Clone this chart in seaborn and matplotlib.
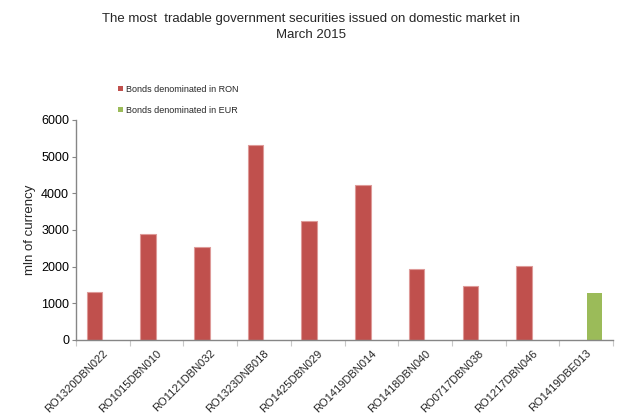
import matplotlib
matplotlib.use('Agg')
import matplotlib.pyplot as plt
import seaborn as sns
import pandas as pd
import numpy as np
from matplotlib.ticker import FixedLocator

securities = ['RO1320DBN022', 'RO1015DBN010', 'RO1121DBN032', 'RO1323DNB018',
              'RO1425DBN029', 'RO1419DBN014', 'RO1418DBN040', 'RO0717DBN038',
              'RO1217DBN046', 'RO1419DBE013']
values = [1320, 2900, 2535, 5310, 3245, 4225, 1925, 1475, 2020, 1290]
series = ['Bonds denominated in RON'] * 9 + ['Bonds denominated in EUR']
series_order = ['Bonds denominated in RON', 'Bonds denominated in EUR']
yticks = [0, 1000, 2000, 3000, 4000, 5000, 6000]
title = 'The most  tradable government securities issued on domestic market in\nMarch 2015'
ylabel = 'mln of currency'

sns.set_theme(style='white')
plt.rcParams['font.family'] = ['Liberation Sans', 'DejaVu Sans']

df = pd.DataFrame({'security': securities, 'value': values, 'series': series})

fig = plt.figure(figsize=(6.19, 4.17), dpi=100)
ax = fig.add_axes([0.1228, 0.1847, 0.8675, 0.5276])

sns.barplot(data=df, x='security', y='value', hue='series', hue_order=series_order,
            order=securities, palette=['#C0504D', '#9BBB59'], width=0.63, gap=0.08,
            dodge=True, ax=ax, edgecolor='#DE9A98', linewidth=0.8, saturation=1)
# green bar has no light edge in the reference
for p in ax.patches:
    fc = p.get_facecolor()
    if fc[1] > fc[0]:
        p.set_edgecolor('none')

ax.set_ylim(0, 6000)
ax.set_xlim(-0.5, len(securities) - 0.5)
ax.yaxis.set_major_locator(FixedLocator(yticks))
ax.tick_params(axis='y', labelsize=9, length=3, width=0.8, color='#868686',
               direction='out', left=True, pad=2, labelcolor='black')
ax.set_ylabel(ylabel, fontsize=9.5, labelpad=4)
ax.set_xlabel('')

ax.set_xticks(range(len(securities)))
ax.set_xticklabels(securities, rotation=45, ha='right', rotation_mode='anchor',
                   fontsize=8)
ax.tick_params(axis='x', which='major', length=0, pad=6)
ax.set_xticks(np.arange(-0.5, len(securities)), minor=True)
ax.tick_params(axis='x', which='minor', length=4, width=0.8, color='#C8C8C8',
               direction='out', bottom=True)

for s in ['top', 'right']:
    ax.spines[s].set_visible(False)
for s in ['left', 'bottom']:
    ax.spines[s].set_color('#868686')
    ax.spines[s].set_linewidth(1.0)

handles, labels = ax.get_legend_handles_labels()
leg = ax.legend(handles, labels, loc='upper left', bbox_to_anchor=(0.183, 0.808),
                bbox_transform=fig.transFigure, frameon=False, fontsize=6.5,
                handlelength=0.55, handleheight=0.55, handletextpad=0.35,
                labelspacing=1.35, borderpad=0)
for h in leg.legend_handles:
    h.set_edgecolor('none')

fig.suptitle(title, fontsize=9.5, x=0.503, y=0.968, va='top', linespacing=1.45)

fig.savefig('out.png', dpi=100)
